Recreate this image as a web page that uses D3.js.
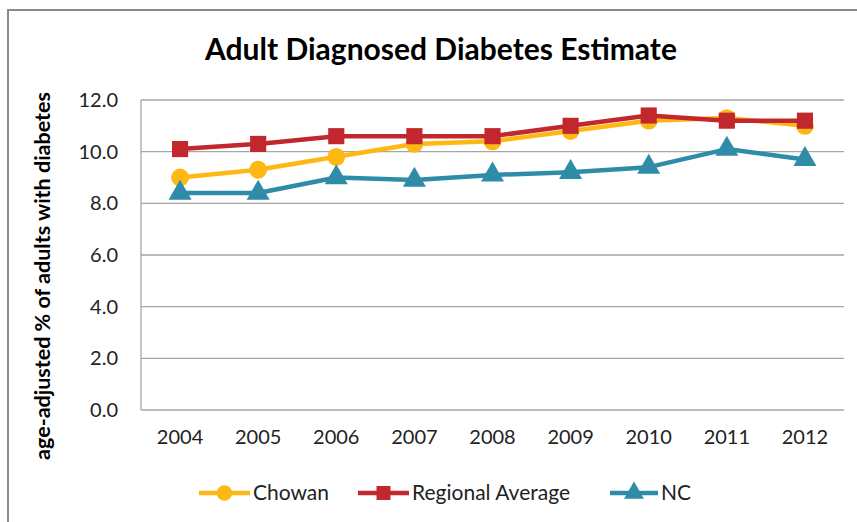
<!DOCTYPE html>
<html><head><meta charset="utf-8">
<script src="https://cdn.jsdelivr.net/npm/d3@7"></script>
<style>body{margin:0;background:#fff}svg{display:block}text{font-family:Lato,"Open Sans",sans-serif}</style>
</head><body><svg id="c" width="857" height="522"></svg>
<script>
const years = ["2004","2005","2006","2007","2008","2009","2010","2011","2012"];
const chowan = [9.0, 9.3, 9.8, 10.3, 10.4, 10.8, 11.2, 11.3, 11.0];
const regional = [10.1, 10.3, 10.6, 10.6, 10.6, 11.0, 11.4, 11.2, 11.2];
const nc = [8.4, 8.4, 9.0, 8.9, 9.1, 9.2, 9.4, 10.1, 9.7];
const yTicks = [0, 2, 4, 6, 8, 10, 12];
const seriesNames = ["Chowan", "Regional Average", "NC"];
const colors = ["#FDB813", "#C1272D", "#2E8CA8"];
const shapes = [d3.symbolCircle, d3.symbolSquare, d3.symbolTriangle];
const symSizes = [250, 260, 230];

const svg = d3.select("#c");
svg.append("rect").attr("x",8).attr("y",10).attr("width",870).attr("height",540)
  .attr("fill","#fff").attr("stroke","#8a8a8a").attr("stroke-width",2);

const L=141, R=844, T=100, B=410;
const x = d3.scaleBand().domain(years).range([L,R]);
const y = d3.scaleLinear().domain([0,12]).range([B,T]);

svg.append("g").selectAll("line").data(yTicks).join("line")
  .attr("x1",L).attr("x2",R).attr("y1",d=>y(d)).attr("y2",d=>y(d))
  .attr("stroke","#a6a6a6").attr("stroke-width",1.3);
svg.append("line").attr("x1",L).attr("x2",L).attr("y1",T).attr("y2",B)
  .attr("stroke","#a6a6a6").attr("stroke-width",1.3);

const ya = svg.append("g").attr("transform",`translate(${L},0)`)
  .call(d3.axisLeft(y).tickValues(yTicks).tickFormat(d3.format(".1f")).tickSize(0).tickPadding(23));
ya.select(".domain").remove();
ya.selectAll("text").attr("font-size",20).attr("fill","#222").style("font-family","Lato");

const xa = svg.append("g").attr("transform",`translate(0,${B})`)
  .call(d3.axisBottom(x).tickSize(0).tickPadding(20));
xa.select(".domain").remove();
xa.selectAll("text").attr("font-size",20).attr("fill","#222").style("font-family","Lato");

svg.append("text").attr("x",441).attr("y",60).attr("text-anchor","middle")
  .attr("font-size",30).attr("font-weight","bold").attr("fill","#000")
  .text("Adult Diagnosed Diabetes Estimate");

svg.append("text").attr("transform","translate(50,276) rotate(-90)").attr("text-anchor","middle")
  .attr("font-size",21.5).attr("font-weight","bold").attr("fill","#000")
  .text("age-adjusted % of adults with diabetes");

const data = [chowan, regional, nc];
const line = d3.line().x((d,i)=>x(years[i])+x.bandwidth()/2).y(d=>y(d));
data.forEach((vals,k)=>{
  const g = svg.append("g");
  g.append("path").datum(vals).attr("d",line).attr("fill","none")
    .attr("stroke",colors[k]).attr("stroke-width",4.5).attr("stroke-linejoin","round");
  g.selectAll("path.m").data(vals).join("path").attr("class","m")
    .attr("transform",(d,i)=>`translate(${x(years[i])+x.bandwidth()/2},${y(d)})`)
    .attr("d",d3.symbol().type(shapes[k]).size(symSizes[k])).attr("fill",colors[k]);
});

const leg = [{x1:199,x2:250,tx:253},{x1:358,x2:409,tx:412},{x1:610,x2:658,tx:661}];
const ly = 493;
leg.forEach((p,k)=>{
  svg.append("line").attr("x1",p.x1).attr("x2",p.x2).attr("y1",ly).attr("y2",ly)
    .attr("stroke",colors[k]).attr("stroke-width",4.5);
  svg.append("path").attr("transform",`translate(${(p.x1+p.x2)/2},${ly})`)
    .attr("d",d3.symbol().type(shapes[k]).size(symSizes[k]*0.75)).attr("fill",colors[k]);
  svg.append("text").attr("x",p.tx).attr("y",ly).attr("dy","0.35em")
    .attr("font-size",21).attr("fill","#222").text(seriesNames[k]);
});
</script></body></html>
